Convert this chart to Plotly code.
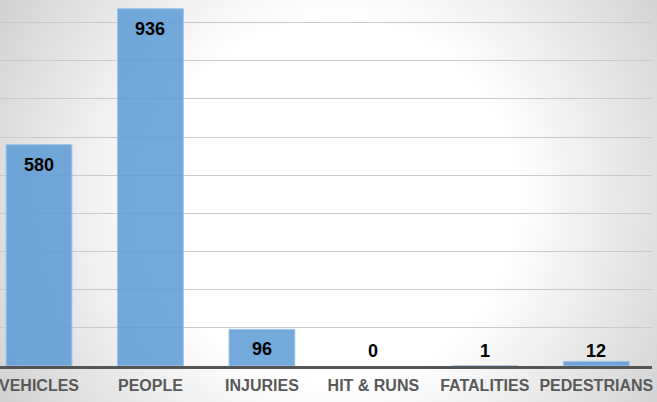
import base64
import plotly.graph_objects as go

categories = ["VEHICLES", "PEOPLE", "INJURIES", "HIT & RUNS", "FATALITIES", "PEDESTRIANS"]
values = [580, 936, 96, 0, 1, 12]

W, H = 657, 402
ML, MR, MT, MB = 0, 5, 0, 36
Y_MAX = 959

svg = f'''<svg xmlns="http://www.w3.org/2000/svg" width="{W}" height="{H}" viewBox="0 0 {W} {H}" preserveAspectRatio="none">
<defs><radialGradient id="g" gradientUnits="userSpaceOnUse" cx="335" cy="200" r="400">
<stop offset="0" stop-color="#ffffff"/><stop offset="0.45" stop-color="#ffffff"/><stop offset="1" stop-color="#cfcfcf"/>
</radialGradient></defs><rect x="0" y="0" width="{W}" height="{H}" fill="url(#g)"/></svg>'''
bg_src = "data:image/svg+xml;base64," + base64.b64encode(svg.encode()).decode()

plot_h = H - MT - MB
line_w = [1 if v * plot_h / Y_MAX >= 2 else 0 for v in values]

fig = go.Figure()
fig.add_trace(go.Bar(
    x=categories, y=values, width=0.59,
    marker=dict(color="rgba(91,155,213,0.85)", line=dict(color="#9dc3e6", width=line_w)),
    hoverinfo="skip",
))

for c, v in zip(categories, values):
    px_h = v * plot_h / Y_MAX
    if px_h >= 35:
        fig.add_annotation(x=c, y=v, yanchor="middle", yshift=-20, text=str(v),
                           showarrow=False, font=dict(family="Liberation Sans", size=18, color="#000000", weight="bold"))
    else:
        fig.add_annotation(x=c, y=0, yanchor="middle", yshift=15, text=str(v),
                           showarrow=False, font=dict(family="Liberation Sans", size=18, color="#000000", weight="bold"))

fig.add_layout_image(dict(source=bg_src, xref="paper", yref="paper", x=-ML / (W - ML - MR), y=1 + MT / plot_h,
                          sizex=W / (W - ML - MR), sizey=H / plot_h, xanchor="left", yanchor="top",
                          sizing="stretch", layer="below"))

fig.update_layout(
    width=W, height=H,
    margin=dict(l=ML, r=MR, t=MT, b=MB, pad=0),
    paper_bgcolor="#ffffff", plot_bgcolor="rgba(0,0,0,0)",
    showlegend=False, bargap=0.41,
    xaxis=dict(type="category", range=[-0.35, 5.5], showgrid=False, ticks="",
               showline=True, linecolor="#555555", linewidth=2.5, ticklabelstandoff=3,
               tickfont=dict(family="Liberation Sans", size=16, color="#595959", weight="bold")),
    yaxis=dict(range=[0, Y_MAX], dtick=100, showticklabels=False, showgrid=True,
               gridcolor="#c9c9c9", gridwidth=1, zeroline=False, ticks=""),
)

fig.write_html("out.html", config={"displayModeBar": False},
               post_script="document.body.style.margin='0';document.body.style.padding='0';")
